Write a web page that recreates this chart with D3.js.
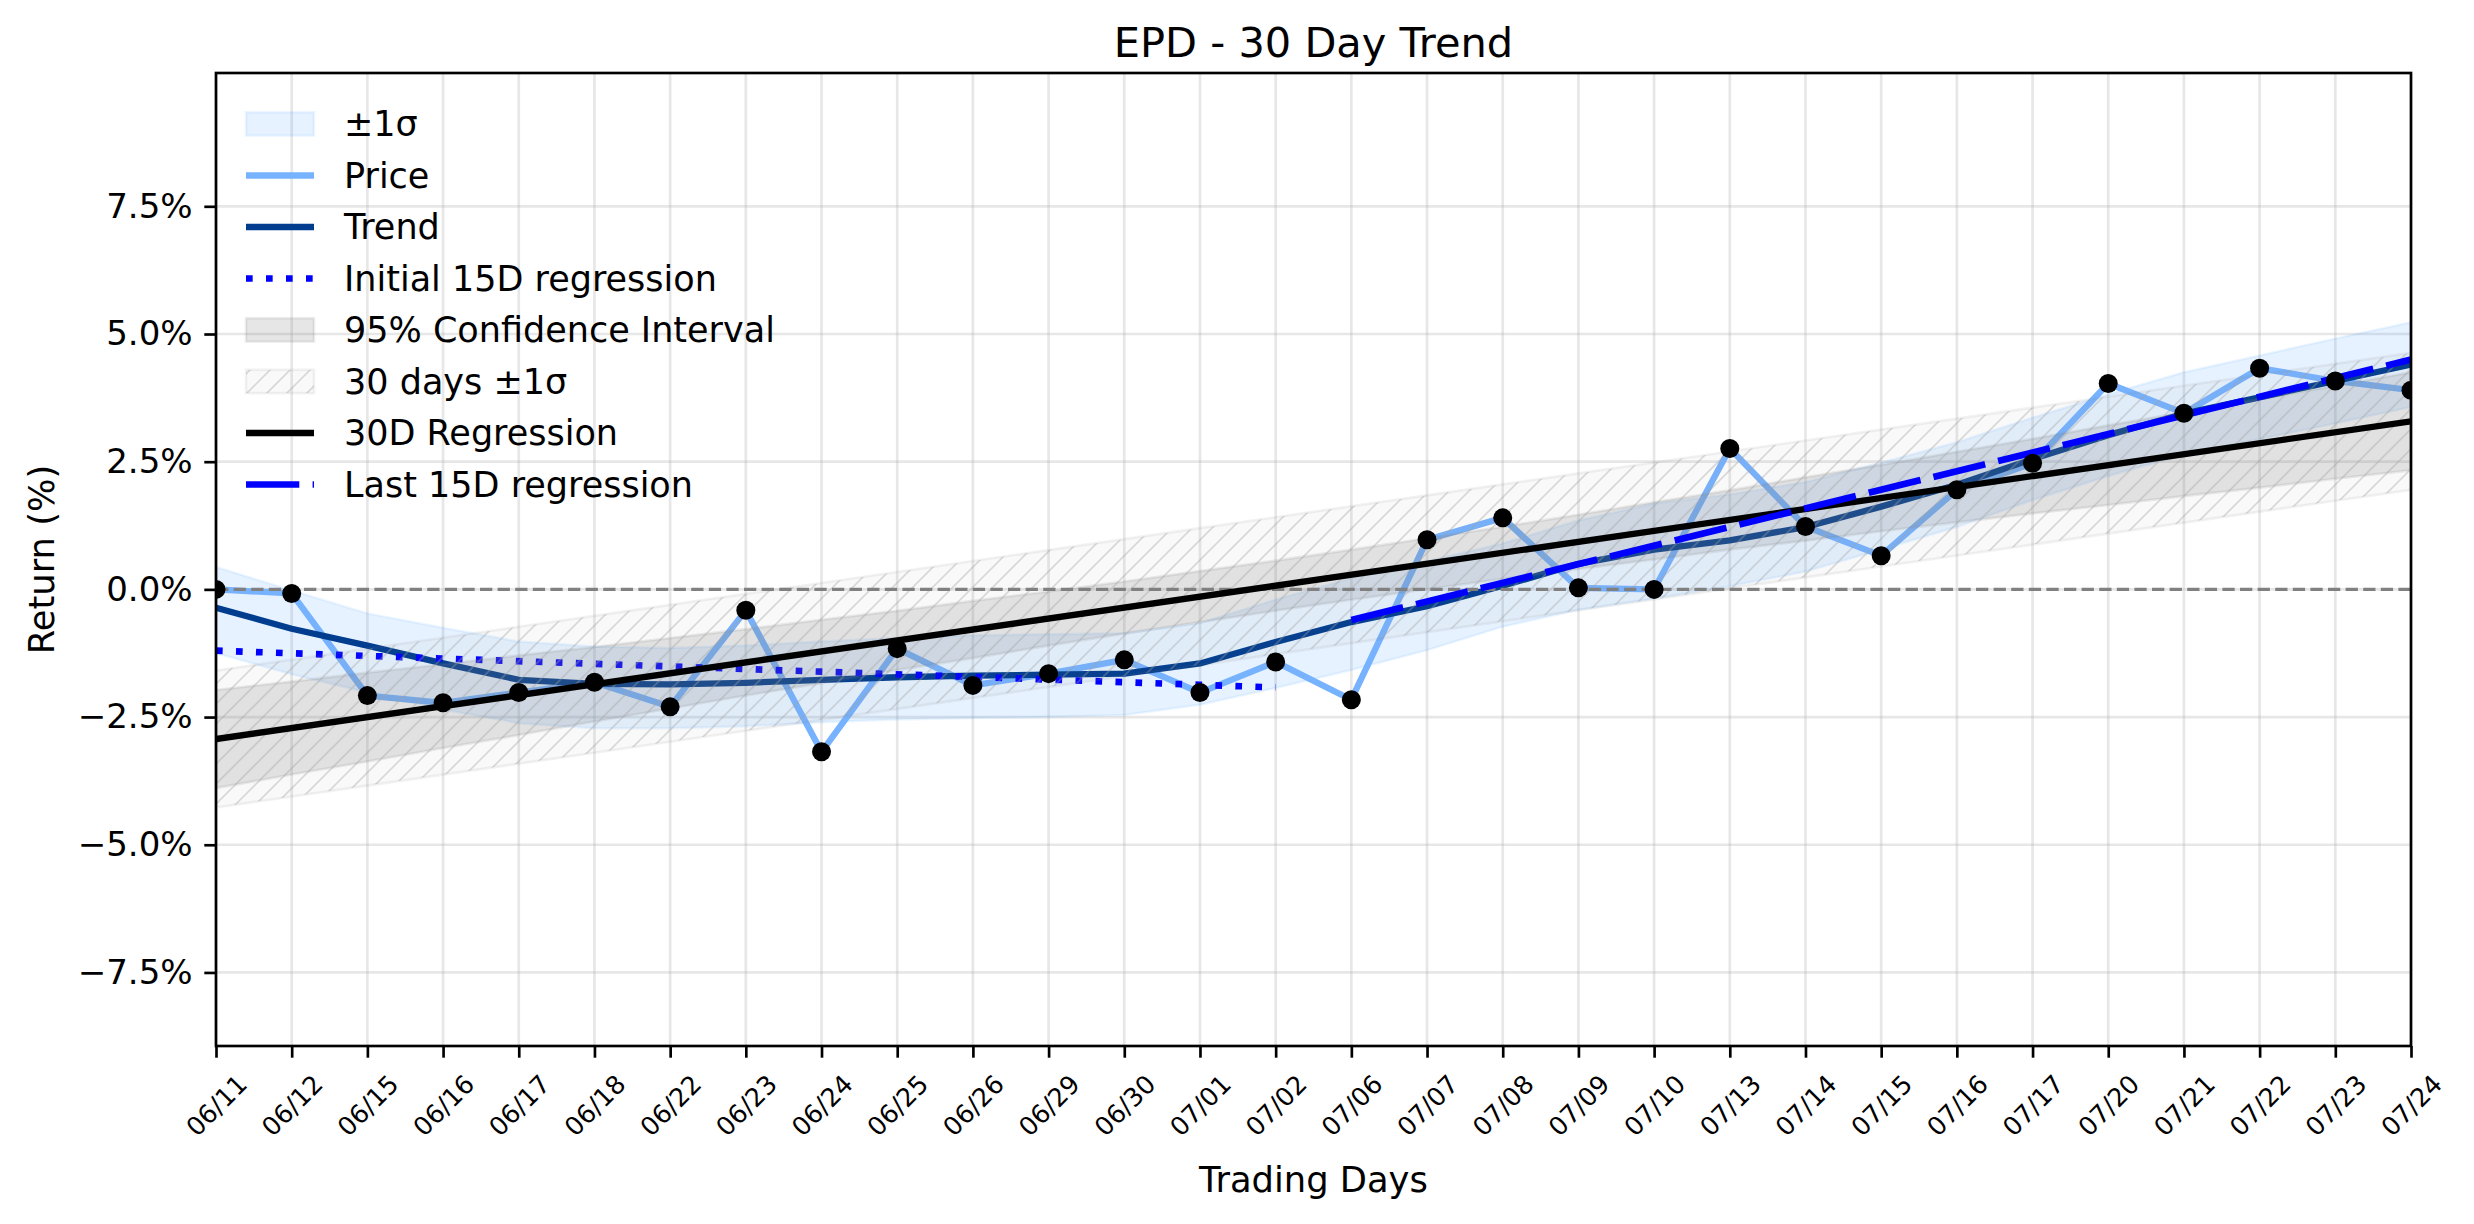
<!DOCTYPE html>
<html><head><meta charset="utf-8">
<script src="https://cdn.jsdelivr.net/npm/d3@7"></script>
<style>
body{margin:0;background:#fff}
svg{display:block}
text{font-family:"DejaVu Sans",sans-serif;fill:#000}
</style>
</head><body>
<svg id="chart" width="2474" height="1224"></svg>
<script>
// ---------- data ----------
const dates = ["06/11","06/12","06/15","06/16","06/17","06/18","06/22","06/23","06/24","06/25",
  "06/26","06/29","06/30","07/01","07/02","07/06","07/07","07/08","07/09","07/10",
  "07/13","07/14","07/15","07/16","07/17","07/20","07/21","07/22","07/23","07/24"];
const price = [0.00,-0.08,-2.08,-2.22,-2.02,-1.82,-2.30,-0.41,-3.18,-1.16,
  -1.88,-1.65,-1.38,-2.02,-1.42,-2.16,0.97,1.40,0.03,0.00,
  2.76,1.23,0.66,1.95,2.47,4.03,3.45,4.33,4.08,3.90];
const trend = [-0.36,-0.77,-1.10,-1.45,-1.77,-1.85,-1.86,-1.83,-1.77,-1.72,
  -1.69,-1.67,-1.65,-1.45,-1.03,-0.64,-0.33,0.07,0.50,0.78,
  0.96,1.22,1.62,2.05,2.55,3.02,3.44,3.76,4.08,4.40];
const bandUpper = [0.44,-0.02,-0.47,-0.75,-1.02,-1.12,-1.15,-1.10,-1.02,-0.95,
  -0.90,-0.88,-0.86,-0.66,-0.20,0.22,0.55,0.90,1.35,1.68,
  1.86,2.10,2.48,2.88,3.36,3.82,4.25,4.58,4.91,5.23];
const bandLower = [-1.25,-1.66,-2.02,-2.35,-2.62,-2.72,-2.72,-2.68,-2.60,-2.55,
  -2.52,-2.50,-2.46,-2.26,-1.93,-1.58,-1.19,-0.73,-0.40,-0.18,
  0.06,0.35,0.78,1.22,1.75,2.22,2.64,2.94,3.25,3.57];
const reg30 = [-2.93, 3.29];      // 30D regression at first / last day
const init15 = [-1.20, -1.92];    // initial 15D regression, day 0 .. day 14
const last15 = [-0.60, 4.50];     // last 15D regression, day 15 .. day 29
const ciHalf = [0.96,0.91,0.87,0.82,0.78,0.73,0.69,0.65,0.62,0.58,
  0.56,0.53,0.51,0.50,0.49,0.49,0.50,0.51,0.53,0.56,
  0.58,0.62,0.65,0.69,0.73,0.78,0.82,0.87,0.91,0.96];
const sigma30 = [1.34];
const yTicks = [-7.5,-5,-2.5,0,2.5,5,7.5];
const yDomain = [-8.94, 10.11];

// ---------- layout ----------
const L = 216, R = 2411, T = 73, B = 1046;
const svg = d3.select("#chart");
const x = d3.scaleLinear().domain([0, dates.length - 1]).range([L, R]);
const y = d3.scaleLinear().domain(yDomain).range([B, T]);
const idx = d3.range(dates.length);
const lerp = (ends, i0, i1) => i => ends[0] + (ends[1] - ends[0]) * (i - i0) / (i1 - i0);
const reg = lerp(reg30, 0, dates.length - 1);

const defs = svg.append("defs");
defs.append("clipPath").attr("id","clip").append("rect")
  .attr("x",L).attr("y",T).attr("width",R-L).attr("height",B-T);
const pat = defs.append("pattern").attr("id","hatch").attr("patternUnits","userSpaceOnUse")
  .attr("width",20).attr("height",20);
pat.append("path").attr("d","M-5,5 L5,-5 M0,20 L20,0 M15,25 L25,15")
  .attr("stroke","#a0a0a0").attr("stroke-width",1.6).attr("stroke-opacity",0.38);

// grid
const grid = svg.append("g");
idx.forEach(i => grid.append("line").attr("x1",x(i)).attr("x2",x(i)).attr("y1",T).attr("y2",B)
  .attr("stroke","#b0b0b0").attr("stroke-opacity",0.3).attr("stroke-width",2.67));
yTicks.forEach(v => grid.append("line").attr("x1",L).attr("x2",R).attr("y1",y(v)).attr("y2",y(v))
  .attr("stroke","#b0b0b0").attr("stroke-opacity",0.3).attr("stroke-width",2.67));

const plot = svg.append("g").attr("clip-path","url(#clip)");

// ±1σ band
const bandArea = d3.area().x(i => x(i)).y0(i => y(bandLower[i])).y1(i => y(bandUpper[i]));
plot.append("path").attr("d", bandArea(idx)).attr("fill","#1e88ff").attr("fill-opacity",0.11)
  .attr("stroke","#1e88ff").attr("stroke-opacity",0.08).attr("stroke-width",2.5);

const line = d3.line().x(d => x(d[0])).y(d => y(d[1]));
// price
plot.append("path").attr("d", line(idx.map(i => [i, price[i]]))).attr("fill","none")
  .attr("stroke","#76b2fe").attr("stroke-width",6.3).attr("stroke-linejoin","round").attr("stroke-linecap","square");
// trend
plot.append("path").attr("d", line(idx.map(i => [i, trend[i]]))).attr("fill","none")
  .attr("stroke","#003d8f").attr("stroke-width",6.3).attr("stroke-linejoin","round").attr("stroke-linecap","square");
// initial 15D regression
const ini = lerp(init15, 0, 14);
plot.append("path").attr("d", line(d3.range(0,15).map(i => [i, ini(i)]))).attr("fill","none")
  .attr("stroke","#0000ff").attr("stroke-width",6.67).attr("stroke-dasharray","6.67,13.33");

// 95% CI
const ciArea = d3.area().x(i => x(i)).y0(i => y(reg(i) - ciHalf[i])).y1(i => y(reg(i) + ciHalf[i]));
plot.append("path").attr("d", ciArea(idx)).attr("fill","#808080").attr("fill-opacity",0.2)
  .attr("stroke","#808080").attr("stroke-opacity",0.15).attr("stroke-width",2.67);
// 30 days ±1σ hatched
const hArea = d3.area().x(i => x(i)).y0(i => y(reg(i) - sigma30[0])).y1(i => y(reg(i) + sigma30[0]));
plot.append("path").attr("d", hArea(idx)).attr("fill","#808080").attr("fill-opacity",0.05)
  .attr("stroke","#808080").attr("stroke-opacity",0.1).attr("stroke-width",2.67);
plot.append("path").attr("d", hArea(idx)).attr("fill","url(#hatch)");

// zero line
plot.append("line").attr("x1",L).attr("x2",R).attr("y1",y(0)).attr("y2",y(0))
  .attr("stroke","#808080").attr("stroke-width",3.33).attr("stroke-dasharray","12.3,5.3");

// 30D regression
plot.append("path").attr("d", line([[0, reg30[0]], [dates.length - 1, reg30[1]]])).attr("fill","none")
  .attr("stroke","#000").attr("stroke-width",6.3);
// last 15D regression
plot.append("path").attr("d", line([[15, last15[0]], [29, last15[1]]])).attr("fill","none")
  .attr("stroke","#0000ff").attr("stroke-width",6.67).attr("stroke-dasharray","53.3,13.3");

// markers
plot.selectAll("circle.pt").data(idx).enter().append("circle")
  .attr("cx", i => x(i)).attr("cy", i => y(price[i])).attr("r", 9.5).attr("fill","#000");

// spines
svg.append("rect").attr("x",L).attr("y",T).attr("width",R-L).attr("height",B-T)
  .attr("fill","none").attr("stroke","#000").attr("stroke-width",2.67);

// y axis
const yAxis = svg.append("g").attr("transform",`translate(${L},0)`)
  .call(d3.axisLeft(y).tickValues(yTicks).tickSize(11.7).tickPadding(11.7)
    .tickFormat(d => d3.format(".1f")(d) + "%"));
yAxis.select(".domain").remove();
yAxis.selectAll(".tick line").attr("stroke","#000").attr("stroke-width",2.67);
yAxis.selectAll(".tick text").attr("font-size",34).attr("font-family","DejaVu Sans");

// x axis
const xAxis = svg.append("g").attr("transform",`translate(0,${B})`)
  .call(d3.axisBottom(x).tickValues(idx).tickSize(11.7).tickPadding(0).tickFormat(i => dates[i]));
xAxis.select(".domain").remove();
xAxis.selectAll(".tick line").attr("stroke","#000").attr("stroke-width",2.67);
const xfs = 25.5;
xAxis.selectAll(".tick text").each(function() {
  const t = d3.select(this);
  t.attr("font-size", xfs).attr("font-family","DejaVu Sans").attr("dy",null)
   .attr("text-anchor","middle").attr("dominant-baseline","central");
  const len = this.getComputedTextLength();
  const half = 0.7071 * (len + 1.1 * xfs) / 2;
  t.attr("y",null).attr("transform",`translate(0,${11.7 + 11.7 + half}) rotate(-45)`);
});

// labels
svg.append("text").attr("x",(L+R)/2).attr("y",57).attr("text-anchor","middle")
  .attr("font-size",41.5).text("EPD - 30 Day Trend");
svg.append("text").attr("x",(L+R)/2).attr("y",1192).attr("text-anchor","middle")
  .attr("font-size",35.3).text("Trading Days");
svg.append("text").attr("transform",`translate(54,${(T+B)/2}) rotate(-90)`).attr("text-anchor","middle")
  .attr("font-size",35.3).text("Return (%)");

// legend
const lg = svg.append("g");
const hx = 246, hw = 68, tx = 344, ry0 = 124, rstep = 51.5;
const entries = [
  {label:"±1σ", type:"patch", fill:"#1e88ff", op:0.11, sop:0.08},
  {label:"Price", type:"line", color:"#76b2fe"},
  {label:"Trend", type:"line", color:"#003d8f"},
  {label:"Initial 15D regression", type:"line", color:"#0000ff", dash:"6.67,13.33", w:6.67},
  {label:"95% Confidence Interval", type:"patch", fill:"#808080", op:0.2, sop:0.15},
  {label:"30 days ±1σ", type:"hatch"},
  {label:"30D Regression", type:"line", color:"#000"},
  {label:"Last 15D regression", type:"line", color:"#0000ff", dash:"53.3,13.3", w:6.67}
];
entries.forEach((e, k) => {
  const cy = ry0 + k * rstep;
  if (e.type === "patch") {
    lg.append("rect").attr("x",hx).attr("y",cy-11.7).attr("width",hw).attr("height",23.3)
      .attr("fill",e.fill).attr("fill-opacity",e.op).attr("stroke",e.fill).attr("stroke-opacity",e.sop).attr("stroke-width",2.67);
  } else if (e.type === "hatch") {
    lg.append("rect").attr("x",hx).attr("y",cy-11.7).attr("width",hw).attr("height",23.3)
      .attr("fill","#808080").attr("fill-opacity",0.05).attr("stroke","#808080").attr("stroke-opacity",0.1).attr("stroke-width",2.67);
    lg.append("rect").attr("x",hx).attr("y",cy-11.7).attr("width",hw).attr("height",23.3).attr("fill","url(#hatch)");
  } else {
    const l = lg.append("line").attr("x1",hx).attr("x2",hx+hw).attr("y1",cy).attr("y2",cy)
      .attr("stroke",e.color).attr("stroke-width",e.w || 6.3);
    if (e.dash) l.attr("stroke-dasharray",e.dash);
  }
  lg.append("text").attr("x",tx).attr("y",cy).attr("dominant-baseline","central")
    .attr("font-size",35).text(e.label);
});
</script>
</body></html>
